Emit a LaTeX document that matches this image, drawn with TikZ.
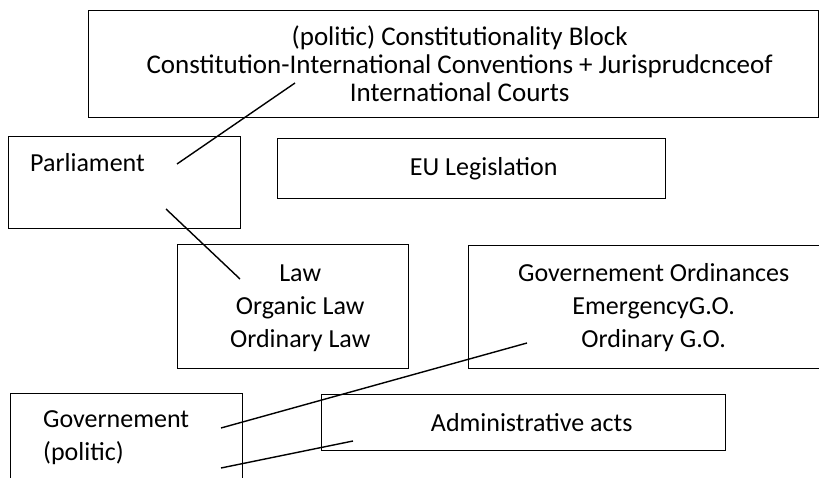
\documentclass[tikz,border=0pt]{standalone}
\usepackage{fontspec}
\setmainfont{Carlito}
\usepackage{tikz}
\usetikzlibrary{positioning, calc}

\begin{document}
\begin{tikzpicture}[x=1pt, y=-1pt,
    box/.style={draw, line width=1.4pt, inner sep=0pt, anchor=north west},
    txt/.style={inner sep=0pt, align=center, font=\fontsize{26}{33}\selectfont},
    link/.style={line width=1.4pt}]
\useasboundingbox (0,0) rectangle (819,478);
\clip (0,0) rectangle (819,478);

% Constitutionality block
\node[box, minimum width=730pt, minimum height=107pt] (block) at (88,10) {};
\node[txt, font=\fontsize{27}{28}\selectfont, xshift=6pt] (blocktext) at (block.center) {
    (politic) Constitutionality Block\\
    Constitution-International Conventions + Jurisprudcnceof\\
    International Courts
};

% Parliament
\node[box, minimum width=232pt, minimum height=92pt] (parl) at (8,136) {};
\node[txt, anchor=west] (parltext) at (30,163) {Parliament};

% EU Legislation
\node[box, minimum width=388pt, minimum height=60pt] (eu) at (277,138) {};
\node[txt, xshift=12pt] (eutext) at (eu.center) {EU Legislation};

% Law
\node[box, minimum width=231pt, minimum height=124pt] (law) at (177,244) {};
\node[txt, xshift=7pt, yshift=-2pt] (lawtext) at (law.center) {
    Law\\
    Organic Law\\
    Ordinary Law
};

% Governement Ordinances
\node[box, minimum width=370pt, minimum height=123pt] (ord) at (468,245) {};
\node[txt] (ordtext) at (ord.center) {
    Governement Ordinances\\
    EmergencyG.O.\\
    Ordinary G.O.
};

% Governement
\node[box, minimum width=232pt, minimum height=100pt] (gov) at (10,393) {};
\node[txt, align=left, anchor=west] (govtext) at (43,438) {
    Governement\\
    (politic)
};

% Administrative acts
\node[box, minimum width=404pt, minimum height=56pt] (adm) at (321,394) {};
\node[txt, xshift=8pt] (admtext) at (adm.center) {Administrative acts};

% Line ends
\coordinate (parlA) at (177,164);
\coordinate (blockA) at (295,83);
\coordinate (parlB) at (166,209);
\coordinate (lawA) at (240,279);
\coordinate (govA) at (221,428);
\coordinate (ordA) at (527,343);
\coordinate (govB) at (221,468);
\coordinate (admA) at (353,441);

% Lines
\draw[link] (parlA) -- (blockA);
\draw[link] (parlB) -- (lawA);
\draw[link] (govA) -- (ordA);
\draw[link] (govB) -- (admA);

\end{tikzpicture}
\end{document}
